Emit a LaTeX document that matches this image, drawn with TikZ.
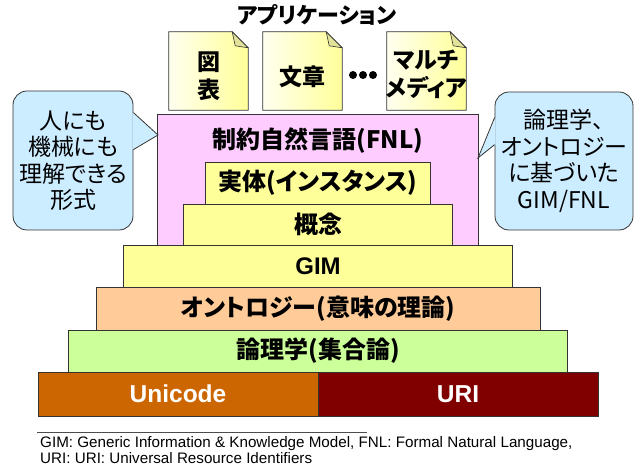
\documentclass[tikz,border=0pt]{standalone}
\usepackage{fontspec}
\setmainfont{Liberation Sans}
\newfontfamily\jp{Noto Sans CJK JP}[RawFeature=+palt]
\usetikzlibrary{positioning}
\definecolor{uniorange}{HTML}{CC6600}
\definecolor{urired}{HTML}{800000}
\definecolor{logicgreen}{HTML}{CCFF99}
\definecolor{ontopeach}{HTML}{FFCC99}
\definecolor{gimyellow}{HTML}{FFFF99}
\definecolor{fnlpink}{HTML}{FFCCFF}
\definecolor{noteblue}{HTML}{CCECFF}
\definecolor{foldyellow}{HTML}{E2E29A}

\begin{document}
\begin{tikzpicture}[x=1pt, y=1pt, node distance=0pt,
  layer/.style={draw=black!80, line width=0.8pt, minimum height=42pt, inner sep=0pt, outer sep=0pt,
    font=\jp\bfseries\fontsize{24}{24}\selectfont},
  note/.style={draw=black!80, line width=0.8pt, fill=noteblue, rounded corners=14pt, align=center,
    inner sep=0pt, font=\jp\fontsize{23}{26.5}\selectfont},
  paper/.style={minimum width=79pt, minimum height=78pt, inner sep=0pt},
  papertext/.style={align=center, inner sep=0pt, font=\jp\bfseries\fontsize{23}{28}\selectfont}]
\useasboundingbox (0,0) rectangle (639,468);

\node (title) at (317,453) {\jp\bfseries\fontsize{22}{22}\selectfont アプリケーション};

\node[paper] (fig) at (208.5,397) {};
\node[paper] (doc) at (302.5,397) {};
\node[paper] (media) at (426.5,397) {};
\foreach \p in {fig,doc,media} {
  \shadedraw[left color=yellow!6, right color=gimyellow, draw=black!80, line width=0.8pt]
    (\p.south west) -- (\p.north west) -- ([xshift=-16pt]\p.north east)
    -- ([yshift=-16pt]\p.north east) -- (\p.south east) -- cycle;
  \filldraw[fill=foldyellow, draw=black!80, line width=0.6pt]
    ([xshift=-16pt]\p.north east) -- ([xshift=-13pt,yshift=-14pt]\p.north east)
    -- ([yshift=-16pt]\p.north east) -- cycle;
}
\node[papertext] (figtext) at ([yshift=-5pt]fig.center) {図\\表};
\node[papertext] (doctext) at ([yshift=-6pt]doc.center) {文章};
\node[papertext] (mediatext) at ([yshift=-3pt]media.center) {マルチ\\メディア};
\foreach \x in {353,363,373}
  \fill (\x,393) circle (4pt);

\node[layer, fill=uniorange, minimum width=280pt, minimum height=44pt, text=white,
  font=\bfseries\fontsize{24.5}{24.5}\selectfont] (uni) at (178,74) {Unicode};
\node[layer, fill=urired, minimum width=280pt, minimum height=44pt, text=white,
  font=\bfseries\fontsize{24.5}{24.5}\selectfont] (uri) [right=of uni] {URI};
\node[layer, fill=logicgreen, minimum width=499pt] (logic) [above=of uni.north east] {論理学(集合論)};
\node[layer, fill=ontopeach, minimum width=444pt, minimum height=43pt] (onto) [above=of logic] {オントロジー(意味の理論)};
\node[layer, fill=gimyellow, minimum width=389pt, font=\bfseries\fontsize{24}{24}\selectfont] (gim) [above=of onto] {GIM};
\node[layer, fill=fnlpink, minimum width=321pt, minimum height=131pt] (fnl) [above=of gim] {};
\node[layer, fill=gimyellow, minimum width=269pt, minimum height=41pt] (concept) [above=of gim] {概念};
\node[layer, fill=gimyellow, minimum width=225pt] (inst) [above=of concept] {実体(インスタンス)};
\node[layer, draw=none, minimum width=225pt] (fnltext) [above=of inst] {制約自然言語(FNL)};

\node[note, minimum width=120pt, minimum height=139pt] (lnote) at (73,307.5) {人にも\\機械にも\\理解できる\\形式};
\node[note, minimum width=138pt, minimum height=138pt] (rnote) at (564,307) {論理学、\\オントロジー\\に基づいた\\GIM/FNL};
\coordinate (ltip) at (158,333);
\coordinate (rtip) at (478,310);
\fill[noteblue] ([xshift=-1pt,yshift=-22pt]lnote.north east) -- (ltip) -- ([xshift=-1pt,yshift=-59pt]lnote.north east) -- cycle;
\draw[black!80, line width=0.8pt] ([yshift=-22pt]lnote.north east) -- (ltip) -- ([yshift=-59pt]lnote.north east);
\fill[noteblue] ([xshift=1pt,yshift=-26pt]rnote.north west) -- (rtip) -- ([xshift=1pt,yshift=-53pt]rnote.north west) -- cycle;
\draw[black!80, line width=0.8pt] ([yshift=-26pt]rnote.north west) -- (rtip) -- ([yshift=-53pt]rnote.north west);

\draw[black!70, line width=0.7pt] (37,36) -- (367,36);
\node[anchor=north west, align=left, inner sep=0pt, font=\fontsize{15.2}{15.5}\selectfont] (foot) at (40,31.5)
  {GIM: Generic Information \& Knowledge Model, FNL: Formal Natural Language,\\URI: URI: Universal Resource Identifiers};
\end{tikzpicture}
\end{document}
